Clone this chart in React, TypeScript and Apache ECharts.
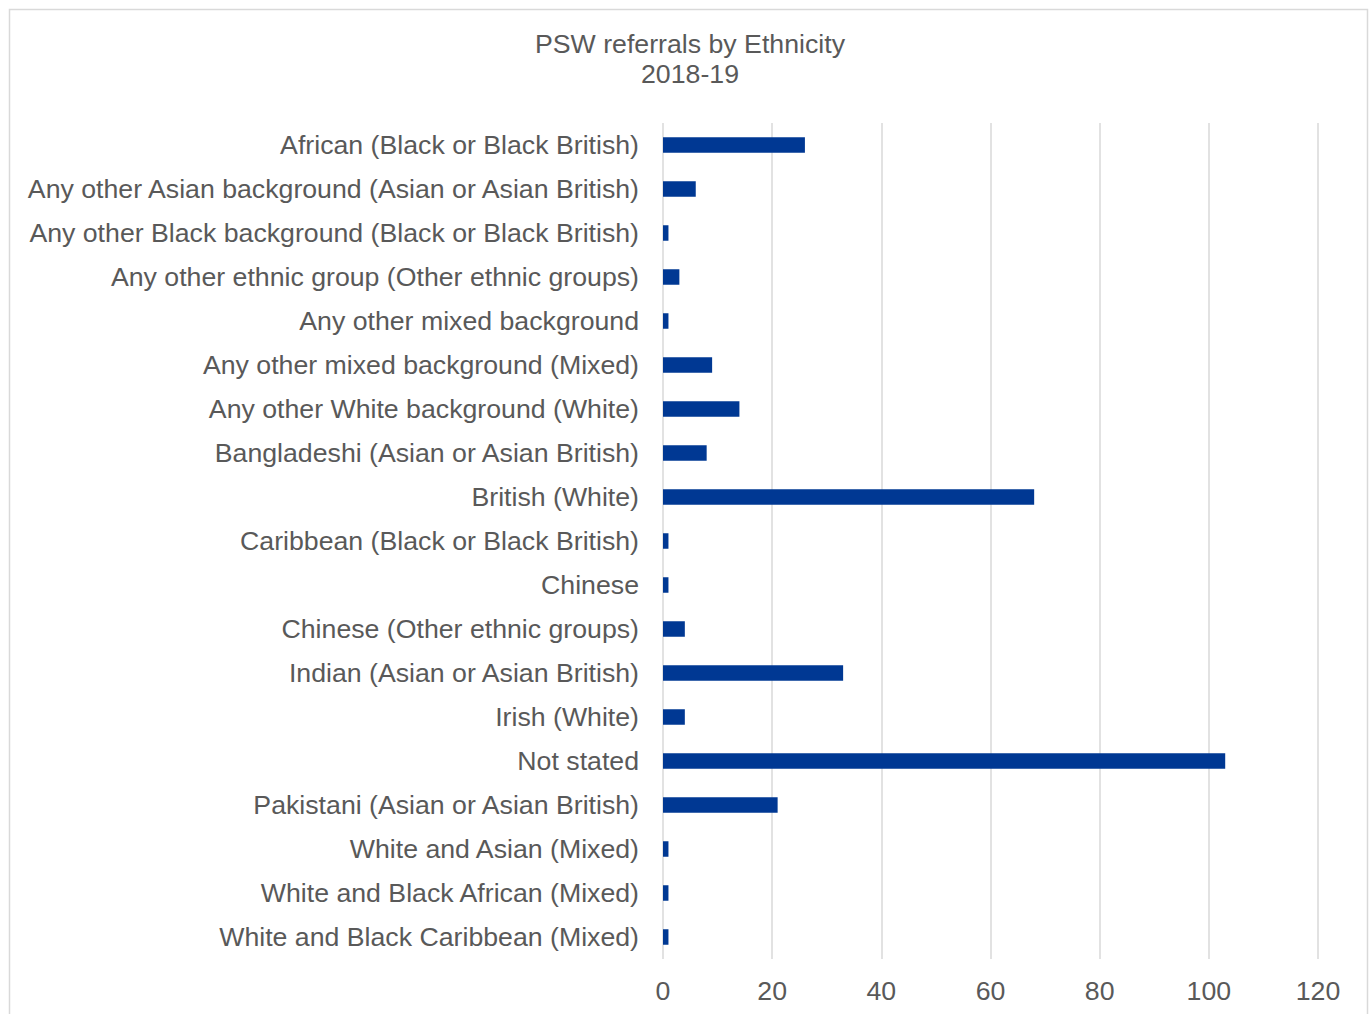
import React, { useEffect, useRef } from "react";
import * as echarts from "echarts";

const categories = [
  "African (Black or Black British)",
  "Any other Asian background (Asian or Asian British)",
  "Any other Black background (Black or Black British)",
  "Any other ethnic group (Other ethnic groups)",
  "Any other mixed background",
  "Any other mixed background (Mixed)",
  "Any other White background (White)",
  "Bangladeshi (Asian or Asian British)",
  "British (White)",
  "Caribbean (Black or Black British)",
  "Chinese",
  "Chinese (Other ethnic groups)",
  "Indian (Asian or Asian British)",
  "Irish (White)",
  "Not stated",
  "Pakistani (Asian or Asian British)",
  "White and Asian (Mixed)",
  "White and Black African (Mixed)",
  "White and Black Caribbean (Mixed)",
];

const referrals = [26, 6, 1, 3, 1, 9, 14, 8, 68, 1, 1, 4, 33, 4, 103, 21, 1, 1, 1];

const xTicks = { min: 0, max: 120, interval: 20 };

const titleLines = ["PSW referrals by Ethnicity", "2018-19"];

const FONT = "'Liberation Sans', Arial, sans-serif";
const TEXT = "#595959";
const FS = 26.7;

export default function App() {
  const ref = useRef<HTMLDivElement>(null);
  useEffect(() => {
    if (!ref.current) return;
    const chart = echarts.init(ref.current, undefined, { renderer: "svg" });
    chart.setOption({
      animation: false,
      backgroundColor: "#ffffff",
      textStyle: { fontFamily: FONT },
      title: {
        text: titleLines.join("\n"),
        left: 685,
        top: 24,
        textAlign: "center",
        textStyle: {
          fontFamily: FONT,
          fontSize: FS,
          lineHeight: 30,
          fontWeight: "normal",
          color: TEXT,
        },
      },
      graphic: [
        {
          type: "rect",
          shape: { x: 9.5, y: 9.5, width: 1358, height: 1020 },
          style: { fill: "none", stroke: "#d9d9d9", lineWidth: 1.5 },
          silent: true,
          z: -1,
        },
      ],
      grid: {
        left: 663,
        top: 123,
        width: 655,
        height: 836,
        containLabel: false,
      },
      xAxis: {
        type: "value",
        min: xTicks.min,
        max: xTicks.max,
        interval: xTicks.interval,
        axisLine: { show: false },
        axisTick: { show: false },
        splitLine: { show: true, lineStyle: { color: "#d9d9d9", width: 1.5 } },
        axisLabel: {
          color: TEXT,
          fontSize: FS,
          fontFamily: FONT,
          margin: 18,
        },
      },
      yAxis: {
        type: "category",
        data: categories,
        inverse: true,
        axisLine: { show: false },
        axisTick: { show: false },
        axisLabel: {
          color: TEXT,
          fontSize: FS,
          fontFamily: FONT,
          margin: 24,
        },
      },
      series: [
        {
          type: "bar",
          data: referrals,
          barWidth: 15.5,
          itemStyle: { color: "#003893" },
        },
      ],
    });
    return () => chart.dispose();
  }, []);
  return (
    <div
      ref={ref}
      style={{ position: "absolute", left: 0, top: 0, width: 1372, height: 1014 }}
    />
  );
}
